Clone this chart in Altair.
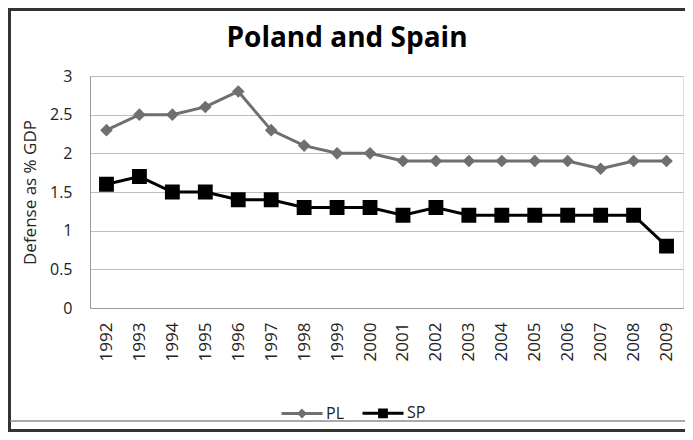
import altair as alt
import pandas as pd

years = [str(y) for y in range(1992, 2010)]
pl = [2.3, 2.5, 2.5, 2.6, 2.8, 2.3, 2.1, 2.0, 2.0, 1.9, 1.9, 1.9, 1.9, 1.9, 1.9, 1.8, 1.9, 1.9]
sp = [1.6, 1.7, 1.5, 1.5, 1.4, 1.4, 1.3, 1.3, 1.3, 1.2, 1.3, 1.2, 1.2, 1.2, 1.2, 1.2, 1.2, 0.8]
series = ["PL", "SP"]
colors = ["#6f6f6f", "#000000"]
y_ticks = [0, 0.5, 1, 1.5, 2, 2.5, 3]
title_text = "Poland and Spain"

df = pd.DataFrame(
    {"Year": years * 2, "Value": pl + sp, "Series": ["PL"] * len(years) + ["SP"] * len(years)}
)

FONT = "Open Sans"
W, H = 593, 232

# shape paths: include a horizontal stroke so the legend shows line + marker
diamond = "M-1,0H1M0,-0.14L0.14,0L0,0.14L-0.14,0Z"
square = "M-1,0H1M-0.165,-0.165H0.165V0.165H-0.165Z"

x = alt.X(
    "Year:O",
    sort=years,
    scale=alt.Scale(type="point", padding=0.5),
    axis=alt.Axis(
        title=None, labelAngle=-90, labelFontSize=17, labelFont=FONT, labelColor="#222222",
        labelPadding=14, ticks=False, domainColor="#9a9a9a", domainWidth=1, grid=False,
    ),
)
y = alt.Y(
    "Value:Q",
    scale=alt.Scale(domain=[0, 3], nice=False),
    axis=alt.Axis(
        values=y_ticks, format="~g", title="Defense as % GDP", titleFont=FONT, titleFontSize=17,
        titleFontWeight="normal", titleColor="#222222", titleX=-60, titleY=116, titleAngle=-90,
        titleAlign="center", titleBaseline="middle",
        labelFontSize=16, labelFont=FONT, labelColor="#222222", labelPadding=18, ticks=False,
        domainColor="#9a9a9a", gridColor="#bdbdbd", gridWidth=1,
    ),
)

legend = alt.Legend(
    title=None, orient="none", direction="horizontal", legendX=190, legendY=315,
    symbolSize=1681, labelFontSize=16, labelFont=FONT, labelColor="#222222",
    labelOffset=2, columnPadding=12, padding=0, symbolStrokeWidth=3,
    symbolStrokeColor={"expr": "scale('color', datum.value)"},
)

line_layers = [
    alt.Chart(df).transform_filter(alt.datum.Series == s).mark_line(strokeWidth=3, color=c).encode(x=x, y=y)
    for s, c in zip(series, colors)
]
points = alt.Chart(df).mark_point(filled=True, size=8100, strokeWidth=0, opacity=1).encode(
    x=x, y=y,
    color=alt.Color("Series:N", scale=alt.Scale(domain=series, range=colors), legend=legend),
    shape=alt.Shape("Series:N", scale=alt.Scale(domain=series, range=[diamond, square]), legend=legend),
)

frame_df = pd.DataFrame({"k": [0]})
title_mark = alt.Chart(pd.DataFrame({"t": [title_text]})).mark_text(
    font=FONT, fontSize=28, fontWeight="bold", color="#000000", align="center", baseline="alphabetic"
).encode(text="t:N", x=alt.value(257), y=alt.value(-29))
left_frame = alt.Chart(frame_df).mark_rule(color="#333333", strokeWidth=3).encode(
    x=alt.value(-80.5), y=alt.value(-68), y2=alt.value(356)
)
top_frame = alt.Chart(frame_df).mark_rule(color="#333333", strokeWidth=3).encode(
    x=alt.value(-82), x2=alt.value(603), y=alt.value(-66.5)
)
bottom_frame = alt.Chart(frame_df).mark_rule(color="#333333", strokeWidth=3).encode(
    x=alt.value(-82), x2=alt.value(603), y=alt.value(354.5)
)
gray_line = alt.Chart(frame_df).mark_rule(color="#8c8c8c", strokeWidth=1.5).encode(
    x=alt.value(-80), x2=alt.value(603), y=alt.value(345)
)

chart = alt.layer(*line_layers, points, title_mark, left_frame, top_frame, bottom_frame, gray_line).properties(
    width=W, height=H,
    autosize=alt.AutoSizeParams(type="none"),
    padding={"left": 82, "top": 68, "right": 2, "bottom": 124},
).configure_view(stroke=None).configure(background="white")

chart.save("out.html", embed_options={"renderer": "svg", "actions": False})
